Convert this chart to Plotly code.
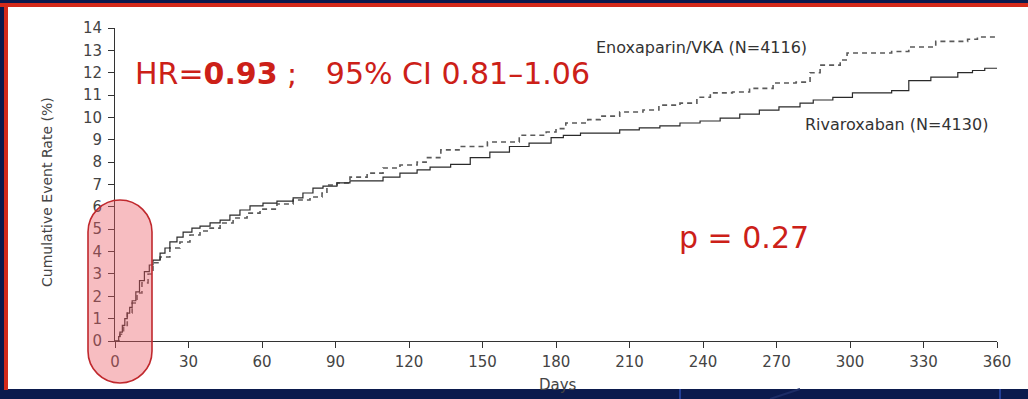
import plotly.graph_objects as go

# ---- data ----
riva_days = [0, 1, 1.5, 2, 3, 4, 5, 6, 7, 8.5, 10, 12, 14, 15.5, 18.4, 20.4, 22.4, 25.3, 27.8,
             31.4, 34.7, 38.8, 42.9, 46.9, 51, 55.1, 60.4, 66.1, 72.7, 76.7, 80.8, 84.9, 90.6,
             95.9, 109.4, 116.3, 123.3, 128.6, 137, 145, 153, 161, 169, 178, 183, 190, 206,
             214, 222.4, 230.6, 238.8, 247, 255, 263, 271, 279.6, 285, 293, 301, 317, 324, 333,
             344, 350, 355, 360]
riva_rate = [0, 0, 0.2, 0.4, 0.7, 1.0, 1.25, 1.5, 1.8, 2.2, 2.7, 3.1, 3.4, 3.62, 3.93, 4.16,
             4.43, 4.65, 4.87, 5.05, 5.14, 5.28, 5.41, 5.63, 5.86, 6.04, 6.17, 6.26, 6.4, 6.62,
             6.84, 6.93, 7.07, 7.16, 7.33, 7.51, 7.65, 7.78, 7.9, 8.2, 8.45, 8.7, 8.85, 9.1, 9.2,
             9.3, 9.44, 9.53, 9.62, 9.75, 9.84, 9.97, 10.15, 10.33, 10.47, 10.64, 10.78, 10.9,
             11.1, 11.2, 11.65, 11.8, 12.0, 12.1, 12.2, 12.2]

enox_days = [0, 2, 3.5, 5, 7, 9, 11, 13.5, 15.5, 18.4, 22.4, 26.5, 30.6, 34.7, 38.8, 42.9,
             48.2, 53.9, 59.2, 66.1, 72.7, 79.6, 84.5, 86.5, 90.6, 95.9, 102.9, 109.4, 116.3,
             123.3, 127, 133, 141, 152, 165, 176, 180, 184, 193, 198, 206, 215.5, 222, 230.6,
             237.5, 243, 252, 259, 268.6, 278, 283.7, 287.8, 296, 298.8, 317, 324, 335, 348,
             352, 360]
enox_rate = [0, 0.3, 0.7, 1.25, 1.7, 2.15, 2.6, 3.0, 3.5, 3.76, 4.16, 4.43, 4.74, 4.92, 5.05,
             5.28, 5.5, 5.72, 5.9, 6.13, 6.31, 6.44, 6.62, 6.98, 7.07, 7.33, 7.51, 7.74, 7.87,
             8.0, 8.2, 8.55, 8.7, 8.9, 9.2, 9.35, 9.5, 9.75, 9.9, 10.06, 10.24, 10.33, 10.55,
             10.64, 10.9, 11.1, 11.14, 11.3, 11.54, 11.58, 12.0, 12.34, 12.57, 12.88, 12.95,
             13.15, 13.4, 13.5, 13.6, 13.65]

x_ticks = list(range(0, 361, 30))
y_ticks = list(range(0, 15))

W, H = 1028, 399
ML, MR, MT, MB = 115, 31, 28, 58
PW, PH = W - ML - MR, H - MT - MB


def px2x(px):
    return (px - ML) / PW


def px2y(py):
    return (H - MB - py) / PH


FONT = "DejaVu Sans"
NAVY = "#0b1a4d"
RED = "#d42a1a"

fig = go.Figure()
fig.add_trace(go.Scatter(x=enox_days, y=enox_rate, mode="lines", line_shape="hv",
                         line=dict(color="#5a5a5a", width=1.6, dash="5px,4px"),
                         name="Enoxaparin/VKA (N=4116)"))
fig.add_trace(go.Scatter(x=riva_days, y=riva_rate, mode="lines", line_shape="hv",
                         line=dict(color="#2a2a2a", width=1.2),
                         name="Rivaroxaban (N=4130)"))

shapes = []
# white slide panel
shapes.append(dict(type="rect", xref="paper", yref="paper", layer="below",
                   x0=px2x(8), x1=px2x(1030), y0=px2y(389), y1=px2y(7),
                   fillcolor="white", line=dict(width=0)))
# red top and left rules
shapes.append(dict(type="rect", xref="paper", yref="paper", layer="below",
                   x0=px2x(0), x1=px2x(1030), y0=px2y(7), y1=px2y(3),
                   fillcolor=RED, line=dict(width=0)))
shapes.append(dict(type="rect", xref="paper", yref="paper", layer="below",
                   x0=px2x(4), x1=px2x(8), y0=px2y(390), y1=px2y(3),
                   fillcolor=RED, line=dict(width=0)))
# faint blue lines in the bottom band
for bx in (680, 1000):
    shapes.append(dict(type="line", xref="paper", yref="paper", layer="below",
                       x0=px2x(bx), x1=px2x(bx), y0=px2y(399), y1=px2y(389),
                       line=dict(color="#2b4bb0", width=1.5)))
shapes.append(dict(type="line", xref="paper", yref="paper", layer="below",
                   x0=px2x(770), x1=px2x(800), y0=px2y(399), y1=px2y(389),
                   line=dict(color="#1c2c66", width=2)))

# pill highlight
L_, R_, T_, B_ = 88, 152, 200, 383
r = (R_ - L_) / 2
cx = (L_ + R_) / 2
k = 0.5523 * r
yt, yb = T_ + r, B_ - r


def P(px, py):
    return f"{px2x(px):.5f},{px2y(py):.5f}"


path = (f"M {P(L_, yt)} C {P(L_, yt - k)} {P(cx - k, T_)} {P(cx, T_)} "
        f"C {P(cx + k, T_)} {P(R_, yt - k)} {P(R_, yt)} "
        f"L {P(R_, yb)} "
        f"C {P(R_, yb + k)} {P(cx + k, B_)} {P(cx, B_)} "
        f"C {P(cx - k, B_)} {P(L_, yb + k)} {P(L_, yb)} Z")
shapes.append(dict(type="path", xref="paper", yref="paper", layer="above", path=path,
                   fillcolor="rgba(235,90,100,0.40)", line=dict(color="#c0282d", width=1.6)))

annotations = [
    dict(x=px2x(133), y=px2y(73), xref="paper", yref="paper", xanchor="left", yanchor="middle",
         text="HR=<b>0.93</b> ;\u00a0\u00a0 95% CI 0.81\u20131.06", showarrow=False,
         font=dict(family=FONT, size=30, color="#cc2018")),
    dict(x=px2x(677), y=px2y(237), xref="paper", yref="paper", xanchor="left", yanchor="middle",
         text="p = 0.27", showarrow=False, font=dict(family=FONT, size=30, color="#cc2018")),
    dict(x=px2x(594), y=px2y(47), xref="paper", yref="paper", xanchor="left", yanchor="middle",
         text="Enoxaparin/VKA (N=4116)", showarrow=False,
         font=dict(family=FONT, size=16, color="#333333")),
    dict(x=px2x(803), y=px2y(124), xref="paper", yref="paper", xanchor="left", yanchor="middle",
         text="Rivaroxaban (N=4130)", showarrow=False,
         font=dict(family=FONT, size=16, color="#333333")),
    dict(x=px2x(47), y=px2y(192), xref="paper", yref="paper", xanchor="center", yanchor="middle",
         text="Cumulative Event Rate (%)", textangle=-90, showarrow=False,
         font=dict(family=FONT, size=14, color="#444444")),
    dict(x=px2x(558), y=px2y(374), xref="paper", yref="paper", xanchor="center", yanchor="top",
         text="Days", showarrow=False, font=dict(family=FONT, size=15, color="#444444")),
]

axis_common = dict(showgrid=False, zeroline=False, showline=True, linecolor="#333333",
                   linewidth=1, ticks="outside", ticklen=6, tickcolor="#333333",
                   tickfont=dict(family=FONT, size=15, color="#444444"), fixedrange=True)

fig.update_layout(
    width=W, height=H, autosize=False,
    margin=dict(l=ML, r=MR, t=MT, b=MB, pad=0),
    paper_bgcolor=NAVY, plot_bgcolor="white",
    showlegend=False,
    xaxis=dict(range=[0, 360], tickvals=x_ticks, ticktext=[str(v) for v in x_ticks],
               ticklabelstandoff=1, **axis_common),
    yaxis=dict(range=[0, 14], tickvals=y_ticks, ticktext=[str(v) for v in y_ticks],
               ticklabelstandoff=3, **axis_common),
    shapes=shapes,
    annotations=annotations,
)

fig.write_html("out.html")
